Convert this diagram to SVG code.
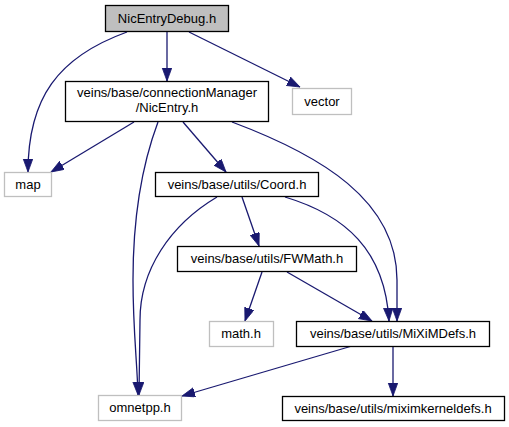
<svg xmlns="http://www.w3.org/2000/svg" width="509" height="427" viewBox="0 0 509 427">
<style>
.n rect{fill:#fff;stroke:#000;stroke-width:1.3}
.g rect{fill:#fff;stroke:#bfbfbf;stroke-width:1.3}
#root rect{fill:#bfbfbf;stroke:#000}
text{font-family:"Liberation Sans",Arial,sans-serif;font-size:13px;fill:#000;text-anchor:middle}
#edges path{fill:none;stroke:#191970;stroke-width:1.3;marker-end:url(#ah)}
</style>
<defs>
<marker id="ah" markerUnits="userSpaceOnUse" markerWidth="14" markerHeight="11" refX="13" refY="4.75" orient="auto">
<path d="M0,0 L13,4.75 L0,9.5 z" fill="#191970" stroke="#191970" stroke-width="0.8"/>
</marker>
</defs>
<rect width="509" height="427" fill="#fff"/>
<g id="edges">
<path d="M127,32 C58,57 28,98 28,172"/>
<path d="M167,31 L167,81"/>
<path d="M189,32 L300,87"/>
<path d="M134,122 L51,172"/>
<path d="M158,122 C140,170 133,220 133,280 C133,330 137,360 138,395"/>
<path d="M183,122 L226,172"/>
<path d="M232,122 C320,155 397,200 397,280 L397,321"/>
<path d="M217,197 C170,225 140,270 140,320 L139,395"/>
<path d="M242,197 L259,246"/>
<path d="M285,197 C345,215 385,250 389,321"/>
<path d="M262,272 L245,321"/>
<path d="M287,272 L372,321"/>
<path d="M352,346 L182,396"/>
<path d="M393,346 L393,396"/>
</g>
<g id="root" class="n"><rect x="105.5" y="5.5" width="123" height="26"/><text x="167" y="23">NicEntryDebug.h</text></g>
<g id="nicentry" class="n"><rect x="65.5" y="81.5" width="203" height="40"/><text x="167" y="97">veins/base/connectionManager</text><text x="167" y="112">/NicEntry.h</text></g>
<g id="vector" class="g"><rect x="292.5" y="88.5" width="59" height="26"/><text x="322" y="106">vector</text></g>
<g id="map" class="g"><rect x="4.5" y="172.5" width="47" height="24"/><text x="28" y="189">map</text></g>
<g id="coord" class="n"><rect x="155.5" y="172.5" width="163" height="24"/><text x="237" y="189">veins/base/utils/Coord.h</text></g>
<g id="fwmath" class="n"><rect x="177.5" y="246.5" width="179" height="25"/><text x="267" y="263">veins/base/utils/FWMath.h</text></g>
<g id="math" class="g"><rect x="209.5" y="321.5" width="64" height="25"/><text x="241" y="338">math.h</text></g>
<g id="miximdefs" class="n"><rect x="296.5" y="321.5" width="193" height="25"/><text x="393" y="338">veins/base/utils/MiXiMDefs.h</text></g>
<g id="omnetpp" class="g"><rect x="98.5" y="395.5" width="83" height="25"/><text x="140" y="412">omnetpp.h</text></g>
<g id="miximkerneldefs" class="n"><rect x="282.5" y="396.5" width="222" height="24"/><text x="393" y="413">veins/base/utils/miximkerneldefs.h</text></g>
</svg>
